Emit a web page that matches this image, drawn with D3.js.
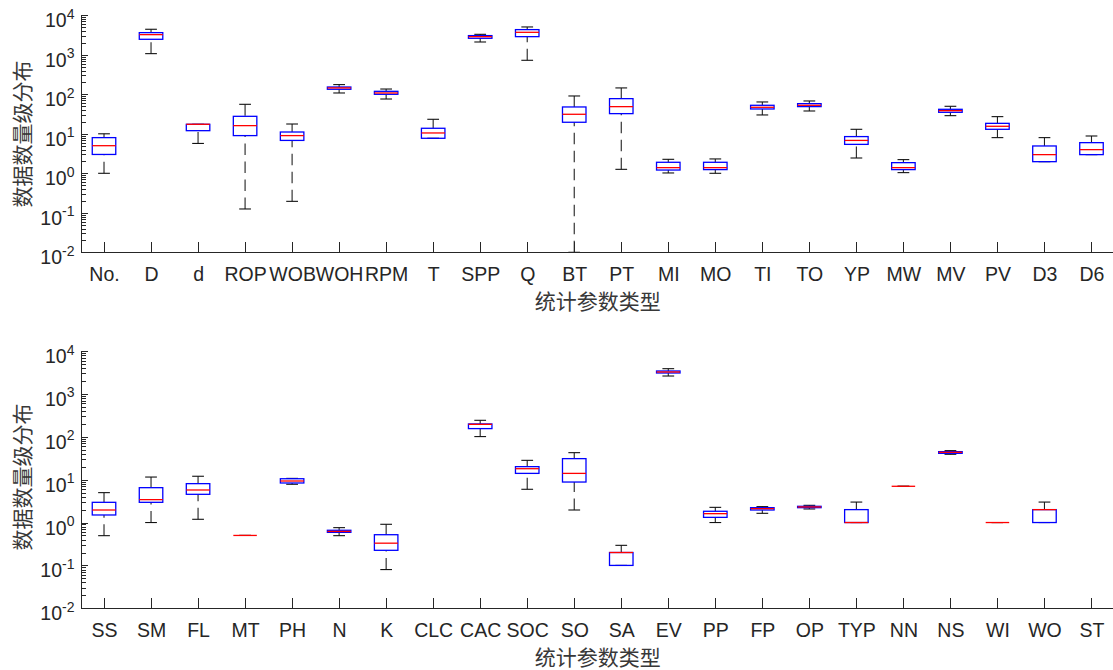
<!doctype html>
<html>

<head>
    <meta charset="utf-8">
    <style>
        body {
            margin: 0;
            background: #fff;
        }

        .axis path,
        .axis line {
            stroke: #262626;
            stroke-width: 1px;
            shape-rendering: crispEdges;
        }

        .axis text {
            font-family: "Liberation Sans", Arial, sans-serif;
            font-size: 19.5px;
            fill: #262626;
        }

        .title {
            font-family: "Noto Sans CJK SC", sans-serif;
            font-size: 21px;
            fill: #383838;
        }
    </style>
    <script src="https://d3js.org/d3.v7.min.js"></script>
</head>

<body>
    <script>
        // top panel: drilling parameters
        const topCats = ["No.", "D", "d", "ROP", "WOB", "WOH", "RPM", "T", "SPP", "Q", "BT",
            "PT", "MI", "MO", "TI", "TO", "YP", "MW", "MV", "PV", "D3", "D6"]
        const topLow = [1, 1070, 5.7, 0.125, 0.195, 108, 76, 7.7, 2110, 726, 0.01,
            1.26, 1.02, 1.0, 30, 37.8, 2.44, 1.04, 28.8, 8, 1.97, 2.97]
        const topQ1 = [3, 2470, 12, 9.0, 6.8, 134, 100, 7.7, 2620, 2880, 19.6,
            32.4, 1.21, 1.24, 42.5, 48.8, 5.4, 1.24, 35, 13, 1.97, 2.97]
        const topMed = [5, 3240, 17.4, 16.1, 9.0, 145, 108, 10.5, 2880, 3710, 31.2,
            48.7, 1.39, 1.39, 46.9, 52.7, 6.8, 1.39, 38.5, 15.5, 2.97, 3.97]
        const topQ3 = [8, 3640, 17.4, 27.7, 11.1, 153, 119, 13.8, 3060, 4340, 47.8,
            77.6, 1.90, 1.90, 52.7, 58, 8.5, 1.86, 41.7, 18.4, 4.92, 5.97]
        const topHigh = [10, 4430, 17.4, 55.8, 17.7, 176, 136, 23.3, 3300, 5070, 90.7,
            145, 2.26, 2.31, 64, 67.8, 13, 2.22, 49.7, 27.2, 8, 8.8]

        // bottom panel: fluid / soil parameters (null = no data)
        const botCats = ["SS", "SM", "FL", "MT", "PH", "N", "K", "CLC", "CAC", "SOC", "SO",
            "SA", "EV", "PP", "FP", "OP", "TYP", "NN", "NS", "WI", "WO", "ST"]
        const botLow = [0.494, 1.0, 1.19, 0.5, 7.8, 0.494, 0.08, null, 101, 5.96, 1.96,
            0.1, 2610, 1.0, 1.64, 2.07, 1.0, 7, 39, 1, 1, null]
        const botQ1 = [1.5, 2.96, 4.55, 0.5, 8.36, 0.59, 0.225, null, 155, 14, 8.8,
            0.1, 3070, 1.32, 1.96, 2.22, 1.0, 7, 41.1, 1, 1, null]
        const botMed = [1.96, 3.42, 5.74, 0.5, 9.3, 0.62, 0.33, null, 195, 18, 14,
            0.2, 3240, 1.61, 2.11, 2.31, 1.0, 7, 43.4, 1, 2, null]
        const botQ3 = [2.96, 6.5, 8.07, 0.5, 10.5, 0.66, 0.52, null, 199, 20.1, 30.9,
            0.2, 3420, 1.83, 2.22, 2.39, 2.0, 7, 45, 1, 2, null]
        const botHigh = [4.98, 11.5, 12, 0.5, 10.7, 0.76, 0.91, null, 242, 28.2, 42.6,
            0.294, 3870, 2.26, 2.35, 2.52, 3, 7, 47.5, 1, 3, null]

        const yTicks = [1e-2, 1e-1, 1e0, 1e1, 1e2, 1e3, 1e4]
        const xTitle = "统计参数类型"
        const yTitle = "数据数量级分布"

        const width = 1113, height = 670
        const svg = d3.select("body").append("svg")
            .attr("width", width)
            .attr("height", height)

        const minorTicks = []
        for (let e = -2; e < 4; e++) {
            for (let m = 2; m <= 9; m++) minorTicks.push(m * Math.pow(10, e))
        }

        const drawPanel = (cats, low, q1, med, q3, high, top, bottom, xTitleY, yTitleY) => {
            const x = d3.scaleLinear().domain([0.5, cats.length + 0.5]).range([80.5, 1115])
            const y = d3.scaleLog().domain([1e-2, 1e4]).range([bottom, top])
            const step = x(2) - x(1)
            const boxW = step * 0.5
            const capW = boxW * 0.5

            const data = cats.map((c, i) => ({
                i: i + 1, low: low[i], q1: q1[i], med: med[i], q3: q3[i], high: high[i]
            })).filter(d => d.med != null)

            const g = svg.append("g")

            //whiskers, dashes start at the cap end
            const whisk = []
            data.forEach(d => {
                if (d.high > d.q3) whisk.push({ i: d.i, a: d.high, b: d.q3 })
                if (d.low < d.q1) whisk.push({ i: d.i, a: d.low, b: d.q1 })
            })
            g.selectAll(".whisker")
                .data(whisk)
                .enter()
                .append("line")
                .attr("x1", d => x(d.i))
                .attr("x2", d => x(d.i))
                .attr("y1", d => y(d.a))
                .attr("y2", d => y(d.b))
                .attr("stroke", "#222")
                .attr("stroke-width", 1.1)
                .attr("stroke-dasharray", "11.5,6.5")

            const caps = []
            data.forEach(d => {
                caps.push({ i: d.i, v: d.high })
                caps.push({ i: d.i, v: d.low })
            })
            g.selectAll(".cap")
                .data(caps)
                .enter()
                .append("line")
                .attr("x1", d => x(d.i) - capW / 2)
                .attr("x2", d => x(d.i) + capW / 2)
                .attr("y1", d => y(d.v))
                .attr("y2", d => y(d.v))
                .attr("stroke", "#111")
                .attr("stroke-width", 1.1)

            g.selectAll(".box")
                .data(data)
                .enter()
                .append("rect")
                .attr("x", d => x(d.i) - boxW / 2)
                .attr("y", d => y(d.q3))
                .attr("width", boxW)
                .attr("height", d => y(d.q1) - y(d.q3))
                .attr("fill", "none")
                .attr("stroke", "#0000ff")
                .attr("stroke-width", 1.3)

            g.selectAll(".median")
                .data(data)
                .enter()
                .append("line")
                .attr("x1", d => x(d.i) - boxW / 2)
                .attr("x2", d => x(d.i) + boxW / 2)
                .attr("y1", d => y(d.med))
                .attr("y2", d => y(d.med))
                .attr("stroke", "#ff0000")
                .attr("stroke-width", 1.3)

            // x axis, ticks pointing inward
            const xAxis = svg.append("g")
                .attr("class", "axis")
                .attr("transform", `translate(0,${bottom})`)
                .call(d3.axisBottom(x)
                    .tickValues(d3.range(1, cats.length + 1))
                    .tickFormat(i => cats[i - 1])
                    .tickSizeInner(-10)
                    .tickSizeOuter(0))
            xAxis.selectAll("text").attr("y", 29).attr("dy", null)

            // y axis minor ticks
            svg.append("g")
                .attr("class", "axis")
                .attr("transform", "translate(80.5,0)")
                .call(d3.axisLeft(y)
                    .tickValues(minorTicks)
                    .tickFormat("")
                    .tickSizeInner(-5)
                    .tickSizeOuter(0))

            const yAxis = svg.append("g")
                .attr("class", "axis")
                .attr("transform", "translate(80.5,0)")
                .call(d3.axisLeft(y)
                    .tickValues(yTicks)
                    .tickSizeInner(-7)
                    .tickSizeOuter(0)
                    .tickPadding(6))
            yAxis.selectAll("text")
                .attr("dy", null)
                .attr("y", 11.5)
                .each(function (d) {
                    const t = d3.select(this).text("")
                    t.append("tspan").text("10")
                    t.append("tspan")
                        .attr("dy", -8.5)
                        .attr("font-size", "14px")
                        .text(Math.round(Math.log10(d)))
                })

            svg.append("text")
                .attr("class", "title")
                .attr("x", (x.range()[0] + x.range()[1]) / 2)
                .attr("y", xTitleY)
                .attr("text-anchor", "middle")
                .attr("dominant-baseline", "central")
                .text(xTitle)

            svg.append("text")
                .attr("class", "title")
                .attr("transform", `translate(21,${yTitleY}) rotate(-90)`)
                .attr("text-anchor", "middle")
                .attr("dominant-baseline", "central")
                .text(yTitle)
        }

        drawPanel(topCats, topLow, topQ1, topMed, topQ3, topHigh, 15.3, 252.3, 300, 134)
        drawPanel(botCats, botLow, botQ1, botMed, botQ3, botHigh, 351, 608.3, 656, 477)
    </script>
</body>

</html>
